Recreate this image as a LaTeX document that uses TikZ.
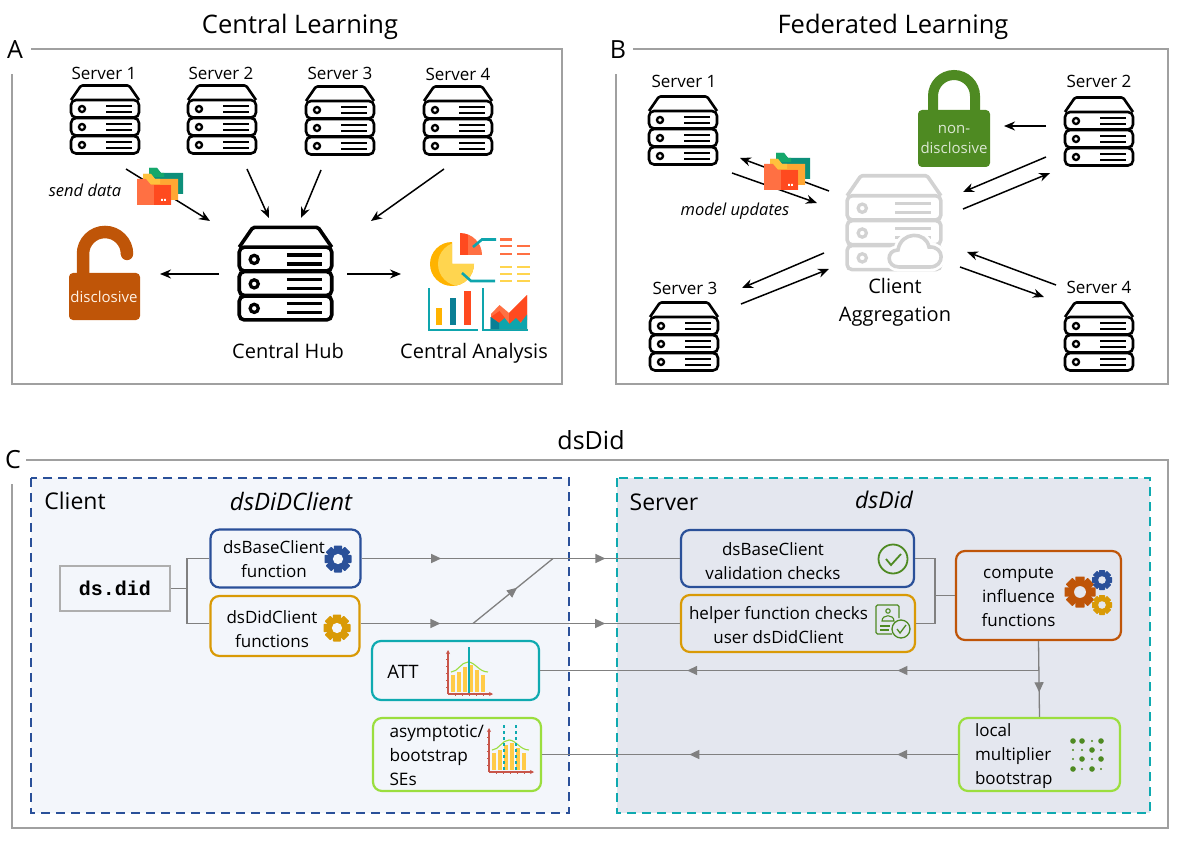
\documentclass[tikz,border=0pt]{standalone}
\usepackage{fontspec}
\setmainfont{Open Sans}
\setmonofont{Liberation Mono}
\usepackage{tikz}
\usetikzlibrary{arrows.meta,decorations.markings,positioning}

\definecolor{frameGray}{HTML}{A0A0A0}
\definecolor{lineGray}{HTML}{808080}
\definecolor{cloudGray}{HTML}{D2D2D2}
\definecolor{clientBg}{HTML}{F3F6FB}
\definecolor{serverBg}{HTML}{E4E7EF}
\definecolor{navy}{HTML}{2A5099}
\definecolor{tealc}{HTML}{0FAAB0}
\definecolor{goldc}{HTML}{D99A06}
\definecolor{limec}{HTML}{9BDE3E}
\definecolor{rust}{HTML}{BF5508}
\definecolor{leaf}{HTML}{4E8A22}
\definecolor{axisred}{HTML}{C8564A}
\definecolor{barYellow}{HTML}{FFCB47}
\definecolor{hotRed}{HTML}{FF4A1F}
\definecolor{softRed}{HTML}{FF7043}
\definecolor{sunA}{HTML}{FFB300}
\definecolor{sunB}{HTML}{FFD54F}
\definecolor{chartTeal}{HTML}{0EA5AD}
\definecolor{deepTeal}{HTML}{0B7F95}
\definecolor{folderGreen}{HTML}{15A86B}
\definecolor{folderTeal}{HTML}{0D8F7A}
\definecolor{folderMid}{HTML}{FFA733}
\definecolor{folderTab}{HTML}{FFC13D}

\tikzset{
  title node/.style={font=\fontsize{25.5}{28}\selectfont},
  letter node/.style={font=\fontsize{25}{28}\selectfont},
  label node/.style={font=\fontsize{17}{20}\selectfont},
  big label/.style={font=\fontsize{20}{28}\selectfont,align=center},
  small label/.style={font=\itshape\fontsize{16.5}{18}\selectfont},
  lock text/.style={font=\fontsize{15}{20}\selectfont,align=center},
  box text/.style={font=\fontsize{17}{24}\selectfont,align=center},
  left text/.style={font=\fontsize{17}{24}\selectfont,align=left},
  dark text/.style={font=\fontsize{17.2}{24}\selectfont,align=left},
  region title/.style={font=\fontsize{23}{26}\selectfont},
  region/.style={dashed,dash pattern=on 9pt off 6pt,line width=2.4pt},
  box node/.style={draw=#1,line width=2.2pt,rounded corners=9pt,inner sep=0pt},
  panel/.style={draw=frameGray,line width=1.6pt},
  flow/.style={->,>={Stealth[length=11pt,width=9pt]},line width=1.5pt,black},
  gray line/.style={draw=lineGray,line width=1.3pt},
  two tips/.style 2 args={gray line,postaction={decorate},decoration={markings,
    mark=at position #1 with {\arrow[lineGray]{Triangle[length=10pt,width=9pt]}},
    mark=at position #2 with {\arrow[lineGray]{Triangle[length=10pt,width=9pt]}}}},
  one tip/.style={gray line,postaction={decorate},decoration={markings,
    mark=at position #1 with {\arrow[lineGray]{Triangle[length=10pt,width=9pt]}}}},
  pics/server/.style n args={2}{code={
    \draw[#1,line width=#2pt,line join=round,rounded corners=1.5pt] (-34,-19) -- (-24,-33.5) -- (24,-33.5) -- (34,-19);
    \foreach \y in {-10,8,26} {
      \draw[#1,line width=#2pt,rounded corners=5pt] (-34,\y-9) rectangle (34,\y+8.5);
      \draw[#1,line width=#2pt*0.9] (-23,\y) circle (3);
      \draw[#1,line width=#2pt*0.9] (1,\y-3.3) -- (27,\y-3.3) (1,\y+3.3) -- (27,\y+3.3);
    }
  }},
  pics/gear/.style n args={2}{code={
    \fill[#1] (0,0) circle (7.6);
    \foreach \a in {0,45,...,135}
      \fill[#1,rotate=\a,rounded corners=0.6pt] (-3,-10) rectangle (3,10);
    \fill[#2] (0,0) circle (3.8);
  }},
  pics/folder/.style={code={
    \fill[folderTeal] (12,5) -- (12,0) -- (20,0) -- (24,5) -- (46,5) -- (46,26) -- (12,26) -- cycle;
    \fill[folderGreen] (12,5) -- (12,0) -- (20,0) -- (24,5) -- (27,5) -- (27,9) -- (12,9) -- cycle;
    \fill[folderMid] (6,11) -- (6,6) -- (14,6) -- (18,11) -- (41,11) -- (41,32) -- (6,32) -- cycle;
    \fill[folderTab] (6,11) -- (6,6) -- (14,6) -- (18,11) -- (23,11) -- (23,16) -- (6,16) -- cycle;
    \fill[softRed] (0,16) -- (0,11) -- (9,11) -- (14,17) -- (34,17) -- (34,37) -- (0,37) -- cycle;
    \fill[hotRed] (17,17) rectangle (34,37);
    \fill[white] (24,31) rectangle (25.8,33) (27,31) rectangle (28.8,33);
  }},
  pics/distplot/.style n args={2}{code={
    \foreach \x/\h in {5/17,11/20,17/25,23/27,29/22,35/17}
      \fill[barYellow] (\x-1.7,-2) rectangle (\x+1.7,-\h-2);
    \draw[limec,line width=1.1pt] (3,-22) .. controls (10,-22) and (13,-32) .. (20,-32) .. controls (27,-32) and (31,-22) .. (40,-22);
    \foreach \v in {#2} \draw[tealc,line width=1.1pt,#1] (\v,-47) -- (\v,0);
    \draw[axisred,line width=1.1pt,-{Stealth[length=4pt,width=4pt]}] (0,0) -- (0,-44);
    \draw[axisred,line width=1.1pt,-{Stealth[length=4pt,width=4pt]}] (0,0) -- (45,0);
    \foreach \t in {7,14,21,28,35} \draw[axisred,line width=0.7pt] (-2,-\t) -- (0,-\t) (\t,0) -- (\t,2);
  }}
}

\begin{document}
\begin{tikzpicture}[x=1pt,y=-1pt]
  \useasboundingbox (0,0) rectangle (1180,842);

  % frames, left open at the letters
  \draw[panel] (31,49) -- (562,49) -- (562,384) -- (12,384) -- (12,74);
  \draw[panel] (633,49) -- (1168,49) -- (1168,384) -- (616,384) -- (616,74);
  \draw[panel] (26,460) -- (1168,460) -- (1168,828) -- (12,828) -- (12,484);

  \node[title node] (titleA) at (300,27) {Central Learning};
  \node[title node] (titleB) at (893,27) {Federated Learning};
  \node[title node,font=\fontsize{25}{28}\selectfont] (titleC) at (591,440) {dsDid};
  \node[letter node] (letterA) at (15,50) {A};
  \node[letter node] (letterB) at (618,50) {B};
  \node[letter node] (letterC) at (13,460) {C};

  % panel A
  \node[label node] (labAone) at (104,73) {Server 1};
  \node[label node] (labAtwo) at (221,73) {Server 2};
  \node[label node] (labAthree) at (340,73) {Server 3};
  \node[label node] (labAfour) at (458,74) {Server 4};
  \pic (srvAone) at (105,119) {server={black}{2.6}};
  \pic (srvAtwo) at (222,119) {server={black}{2.6}};
  \pic (srvAthree) at (340,120) {server={black}{2.6}};
  \pic (srvAfour) at (458,120) {server={black}{2.6}};
  \pic[scale=1.36] (hub) at (285.5,273) {server={black}{3.6}};
  \node[big label] (hublab) at (288,351) {Central Hub};
  \node[big label] (analab) at (474,353) {Central Analysis};
  \node[small label] (send) at (85,190) {send data};

  \coordinate (aone) at (126,169);   \coordinate (aoneend) at (210,221);
  \coordinate (atwo) at (247,169);   \coordinate (atwoend) at (269,218);
  \coordinate (athree) at (321,170); \coordinate (athreeend) at (301,218);
  \coordinate (afour) at (444,169);  \coordinate (afourend) at (371,221);
  \coordinate (hubl) at (219,274);   \coordinate (lockr) at (160,274);
  \coordinate (hubr) at (347,274);   \coordinate (anal) at (401,274);

  \foreach \from/\to in {aone/aoneend,atwo/atwoend,athree/athreeend,afour/afourend,hubl/lockr,hubr/anal}
    \draw[flow] (\from) -- (\to);

  \pic (folderA) at (137,168) {folder};

  % open lock
  \draw[rust,line width=12.5pt] (83,280) -- (83,254) arc[start angle=180,end angle=360,radius=22];
  \fill[rust] (127,254) circle (6.2);
  \fill[rust,rounded corners=4pt] (69,273) rectangle (140,320);
  \node[lock text,text=white!90!orange] (disclosive) at (104,297) {disclosive};

  % analysis icon
  \begin{scope}
    \clip (452,264) -- (474,264) arc[start angle=0,end angle=270,radius=22] -- cycle;
    \fill[sunA] (452,264) circle (23);
    \fill[sunB] (460,264) circle (22);
  \end{scope}
  \begin{scope}
    \clip (460,255) -- (460,233) arc[start angle=270,end angle=360,radius=22] -- cycle;
    \fill[hotRed] (458,232) rectangle (468,256);
    \fill[softRed] (468,232) rectangle (483,256);
  \end{scope}
  \draw[chartTeal,line width=2.6pt] (473,247) -- (482,239.5) -- (496,239.5);
  \draw[chartTeal,line width=2.6pt] (462,273) -- (471,281) -- (495,281);
  \foreach \y/\c in {246/softRed,254/softRed,267/sunB,274/sunB,281/sunB}
    \draw[\c,line width=2.6pt] (500,\y) -- (512,\y) (517,\y) -- (530,\y);
  \draw[softRed,line width=2.6pt] (500,239.5) -- (512,239.5);
  \draw[chartTeal,line width=2.4pt] (429,288) -- (429,330) -- (478,330);
  \fill[sunA] (436,308) rectangle (442,324.5);
  \fill[deepTeal] (450,298) rectangle (456,324.5);
  \fill[hotRed] (464,290.5) rectangle (471,324.5);
  \draw[chartTeal,line width=2.4pt] (483,288) -- (483,330) -- (528,330);
  \fill[softRed] (491,314) -- (499.5,305) -- (509,313) -- (527,295) -- (527,329) -- (491,329) -- cycle;
  \fill[hotRed] (509,313) -- (527,295) -- (527,320) -- (509,325) -- cycle;
  \fill[hotRed] (491,317) -- (499.5,311) -- (505,318) -- (505,326) -- (491,326) -- cycle;
  \fill[chartTeal] (490.5,317) -- (499,323) -- (504.6,318) -- (509.5,324) -- (516,318) -- (520.7,323) -- (527,314.5) -- (527,329) -- (490.5,329) -- cycle;
  \fill[deepTeal] (490.5,317) -- (499,323) -- (499,329) -- (490.5,329) -- cycle;

  % panel B
  \node[label node] (labBone) at (684,81) {Server 1};
  \node[label node] (labBtwo) at (1099,81) {Server 2};
  \node[label node] (labBthree) at (685,288) {Server 3};
  \node[label node] (labBfour) at (1099,287) {Server 4};
  \pic (srvBone) at (683,130) {server={black}{2.6}};
  \pic (srvBtwo) at (1099,131) {server={black}{2.6}};
  \pic (srvBthree) at (684,336) {server={black}{2.6}};
  \pic (srvBfour) at (1099,336) {server={black}{2.6}};
  \pic[scale=1.38] (aggr) at (894,222) {server={cloudGray}{3.6}};
  \draw[cloudGray,line width=3.6pt,fill=white,preaction={draw=white,line width=9pt}] (899,267) .. controls (886,267) and (886,250) .. (898,250) .. controls (901,231) and (926,231) .. (929,247) .. controls (945,246) and (945,267) .. (930,267) -- cycle;
  \node[big label] (aggrlab) at (895,302) {Client\\Aggregation};
  \node[small label] (updates) at (735,211) {model updates};

  \coordinate (bcone) at (829,191);   \coordinate (bsone) at (740,158);
  \coordinate (bstwo) at (732,173);   \coordinate (bctwo) at (817,203);
  \coordinate (bsthree) at (1046,126);\coordinate (bnon) at (1004,126);
  \coordinate (bsfour) at (1046,157); \coordinate (bcthree) at (963,192);
  \coordinate (bcfour) at (963,209);  \coordinate (bsfive) at (1050,173);
  \coordinate (bcfive) at (824,253);  \coordinate (bssix) at (742,288);
  \coordinate (bsseven) at (741,304); \coordinate (bcseven) at (829,269);
  \coordinate (bseight) at (1056,285);\coordinate (bceight) at (967,252);
  \coordinate (bcnine) at (960,267);  \coordinate (bsnine) at (1044,297);

  \foreach \from/\to in {bcone/bsone,bstwo/bctwo,bsthree/bnon,bsfour/bcthree,bcfour/bsfive,bcfive/bssix,bsseven/bcseven,bseight/bceight,bcnine/bsnine}
    \draw[flow] (\from) -- (\to);

  \pic (folderB) at (764,153) {folder};

  % closed lock
  \draw[leaf,line width=10pt] (933,115) -- (933,96) arc[start angle=180,end angle=360,radius=21] -- (975,115);
  \fill[leaf,rounded corners=4pt] (918,110) rectangle (990,167);
  \node[lock text,text=white!80!leaf] (nondisc) at (954,139) {non-\\disclosive};

  % panel C, the two regions
  \fill[clientBg] (31,478) rectangle (569,813);
  \draw[region,navy] (31,478) rectangle (569,813);
  \fill[serverBg] (617,478) rectangle (1150,813);
  \draw[region,tealc] (617,478) rectangle (1150,813);
  \node[region title] (clientlab) at (75,501) {Client};
  \node[region title,font=\itshape\fontsize{24}{26}\selectfont] (clientpkg) at (291,501) {dsDiDClient};
  \node[region title] (serverlab) at (664,502) {Server};
  \node[region title,font=\itshape\fontsize{23}{26}\selectfont] (serverpkg) at (884,500) {dsDid};

  \node[draw=frameGray!85!white,line width=1.5pt,fill=clientBg,minimum width=110pt,minimum height=45pt,font=\ttfamily\bfseries\fontsize{20}{24}\selectfont] (dsdid) at (115,588.5) {ds.did};

  \node[box node=navy,fill=clientBg,minimum width=150pt,minimum height=58pt] (basefun) at (285.5,558.5) {};
  \node[box node=goldc,fill=clientBg,minimum width=149pt,minimum height=60pt] (didfun) at (285,626) {};
  \node[box node=tealc,fill=clientBg,minimum width=167pt,minimum height=59pt] (attbox) at (455.5,670.5) {};
  \node[box node=limec,fill=clientBg,minimum width=168pt,minimum height=73pt] (asebox) at (457,754.5) {};
  \node[box node=navy,fill=serverBg,minimum width=233pt,minimum height=57pt] (valbox) at (797.5,558.5) {};
  \node[box node=goldc,fill=serverBg,minimum width=234pt,minimum height=57pt] (helpbox) at (798,623.5) {};
  \node[box node=rust,fill=serverBg,minimum width=165pt,minimum height=89pt] (compute) at (1038.5,595.5) {};
  \node[box node=limec,fill=serverBg,minimum width=161pt,minimum height=73pt] (localbox) at (1039.5,754.5) {};

  \node[box text] (basetext) at (274,559) {dsBaseClient\\function};
  \node[box text] (didtext) at (272,629) {dsDidClient\\functions};
  \node[dark text,font=\fontsize{18.5}{24}\selectfont] (atttext) at (403,672) {ATT};
  \node[dark text,anchor=west] (asetext) at (386,755) {asymptotic/\\bootstrap\\SEs};
  \node[box text] (valtext) at (773,561) {dsBaseClient\\validation checks};
  \node[box text] (helptext) at (778.5,625) {helper function checks\\user dsDidClient};
  \node[box text] (comptext) at (1018.5,597) {compute\\influence\\functions};
  \node[left text,anchor=west] (localtext) at (971.5,756) {local\\multiplier\\bootstrap};

  \pic[scale=1.35] (gearbase) at (338,559) {gear={navy}{clientBg}};
  \pic[scale=1.35] (geardid) at (337,628) {gear={goldc}{clientBg}};
  \pic[scale=1.55] (gearbig) at (1080,592) {gear={rust}{serverBg}};
  \pic (gearblue) at (1102,580) {gear={navy}{serverBg}};
  \pic (geargold) at (1102,605) {gear={goldc}{serverBg}};
  \pic (distatt) at (448,694) {distplot={solid}{21}};
  \pic (distase) at (489,772) {distplot={dashed}{15,27}};

  % check badge
  \draw[leaf,line width=1.8pt] (893,559) circle (14.5);
  \draw[leaf,line width=1.8pt] (886,559) -- (891,565) -- (901,554);

  % id card with check
  \draw[leaf,line width=1.3pt,rounded corners=1.5pt] (899,618) -- (899,605) -- (876,605) -- (876,634) -- (892,634);
  \draw[leaf,line width=1.1pt] (888,611) circle (2.2);
  \draw[leaf,line width=1.1pt] (882,621) .. controls (882,614) and (894,614) .. (894,621) -- cycle;
  \draw[leaf,line width=1.1pt] (880,626) -- (890,626) (880,630) -- (889,630);
  \draw[leaf,line width=1.3pt,fill=serverBg] (901,629) circle (9);
  \draw[leaf,line width=1.3pt] (897,629) -- (900,633) -- (906,625);

  % bootstrap dots
  \foreach \y/\ra/\rb/\rc/\rd in {741/2.8/2.8/1.2/2.8,750/1.2/1.2/2.8/1.2,759/1.2/2.8/1.2/2.8,769/2.8/1.2/2.8/1.2}
    \foreach \x/\r in {1073/\ra,1082/\rb,1092/\rc,1101/\rd}
      \fill[leaf] (\x,\y) circle (\r);

  % connectors
  \coordinate (dssplit) at (187,588.5);
  \coordinate (didout) at (helpbox.west -| didfun.east);
  \coordinate (didin) at (helpbox.west -| didfun.west);
  \coordinate (diagstart) at (473,623.5);
  \coordinate (diagend) at (553,558.5);
  \coordinate (valsplit) at (935,595.5);
  \coordinate (attsplit) at (compute.south |- attbox.east);

  \draw[gray line] (dsdid.east) -- (dssplit);
  \draw[gray line] (basefun.west) -| (dssplit);
  \draw[gray line] (didin) -| (dssplit);
  \draw[two tips={.25}{.766}] (basefun.east) -- (valbox.west);
  \draw[two tips={.25}{.766}] (didout) -- (helpbox.west);
  \draw[one tip=.55] (diagstart) -- (diagend);
  \draw[gray line] (valbox.east) -| (valsplit);
  \draw[gray line] (helpbox.east) -| (valsplit);
  \draw[gray line] (valsplit) -- (compute.west);
  \draw[two tips={.283}{.705}] (attsplit) -- (attbox.east);
  \draw[one tip=.675] (compute.south) -- (localbox.north);
  \draw[two tips={.146}{.646}] (localbox.west) -- (asebox.east);

\end{tikzpicture}
\end{document}
